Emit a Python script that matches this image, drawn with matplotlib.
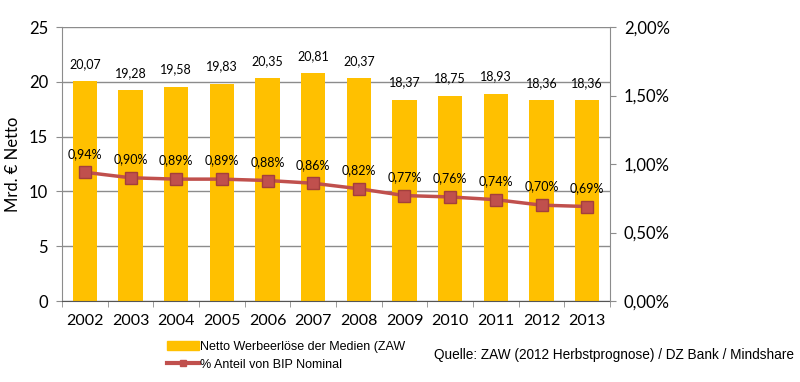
import matplotlib
matplotlib.use("Agg")
import matplotlib.pyplot as plt
from matplotlib.patches import Patch
from matplotlib.lines import Line2D
from matplotlib.ticker import FuncFormatter, MultipleLocator

years = ["2002", "2003", "2004", "2005", "2006", "2007", "2008", "2009", "2010", "2011", "2012", "2013"]
werbung = [20.07, 19.28, 19.58, 19.83, 20.35, 20.81, 20.37, 18.37, 18.75, 18.93, 18.36, 18.36]
bip_anteil = [0.94, 0.90, 0.89, 0.89, 0.88, 0.86, 0.82, 0.77, 0.76, 0.74, 0.70, 0.69]

BAR = "#FFC000"
LINE = "#C0504D"
GRID = "#8C8C8C"
FONT = ["Lato", "DejaVu Sans"]
NARROW = ["Liberation Sans Narrow", "Liberation Sans", "DejaVu Sans"]

plt.rcParams["font.family"] = FONT


def de(v, nd=2):
    return f"{v:.{nd}f}".replace(".", ",")


fig = plt.figure(figsize=(8, 3.82), dpi=100)
ax = fig.add_axes([0.0775, 0.212, 0.685, 0.717])
ax2 = ax.twinx()

x = list(range(len(years)))
ax.bar(x, werbung, width=0.53, color=BAR, zorder=2)
for xi, v in zip(x, werbung):
    ax.annotate(de(v), (xi, v), xytext=(0, 8), textcoords="offset points",
                ha="center", va="bottom", fontsize=9)

ax.set_xlim(-0.5, len(years) - 0.5)
ax.set_ylim(0, 25)
ax.yaxis.set_major_locator(MultipleLocator(5))
ax.grid(axis="y", color=GRID, lw=1, zorder=0)
ax.set_axisbelow(True)
ax.set_xticks(x)
ax.set_xticklabels(years, fontsize=11.5)
ax.set_xticks([i - 0.5 for i in range(len(years) + 1)], minor=True)
ax.tick_params(axis="x", which="major", length=0, pad=9)
ax.tick_params(axis="x", which="minor", length=4, color=GRID)
ax.tick_params(axis="y", length=4, color=GRID, labelsize=12, pad=6)
ax.set_ylabel("Mrd. € Netto", fontsize=12, labelpad=6)
for s in ["top", "right"]:
    ax.spines[s].set_visible(False)
ax.spines["left"].set_color(GRID)
ax.spines["bottom"].set_color("#555555")

ax2.plot(x, bip_anteil, color=LINE, lw=2.5, marker="s", ms=9,
         mfc=LINE, mec="#A33F3C", mew=1, zorder=3)
for xi, v in zip(x, bip_anteil):
    ax2.annotate(de(v) + "%", (xi, v), xytext=(0, 9), textcoords="offset points",
                 ha="center", va="bottom", fontsize=9)
ax2.set_ylim(0, 2.0)
ax2.yaxis.set_major_locator(MultipleLocator(0.5))
ax2.yaxis.set_major_formatter(FuncFormatter(lambda v, p: de(v) + "%"))
ax2.tick_params(axis="y", length=4, color=GRID, labelsize=12, pad=6)
for s in ["top", "left", "bottom"]:
    ax2.spines[s].set_visible(False)
ax2.spines["right"].set_color(GRID)

handles = [Patch(color=BAR, label="Netto Werbeerlöse der Medien (ZAW"),
           Line2D([0], [0], color=LINE, lw=3, marker="s", ms=5, mfc=LINE,
                  label="% Anteil von BIP Nominal")]
fig.legend(handles=handles, loc="upper left", bbox_to_anchor=(0.203, 0.12),
           frameon=False, prop={"family": NARROW, "size": 9},
           handlelength=2.5, handletextpad=0.1, labelspacing=0.45, borderaxespad=0)
fig.text(0.993, 0.07, "Quelle: ZAW (2012 Herbstprognose) / DZ Bank / Mindshare",
         ha="right", va="center", fontsize=9.8, family=NARROW)

fig.savefig("out.png", dpi=100)
